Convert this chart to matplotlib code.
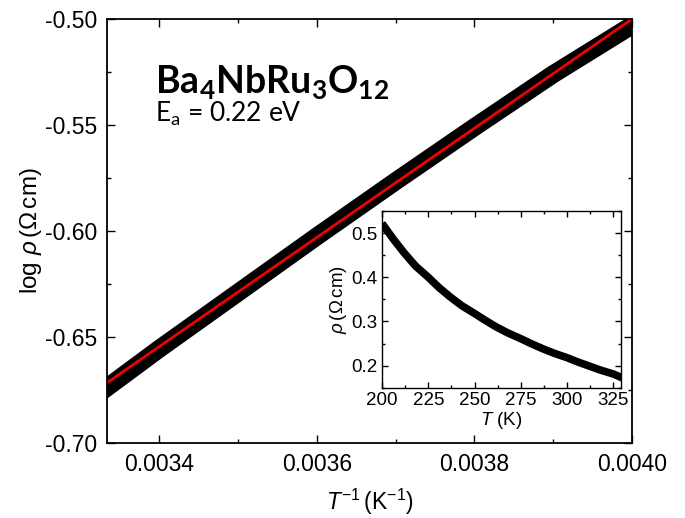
import numpy as np
import matplotlib
matplotlib.use("Agg")
import matplotlib.pyplot as plt
from matplotlib.ticker import MultipleLocator

plt.rcParams['font.family'] = ['Liberation Sans', 'DejaVu Sans']
plt.rcParams['mathtext.fontset'] = 'custom'
plt.rcParams['mathtext.rm'] = 'Liberation Sans'
plt.rcParams['mathtext.it'] = 'Liberation Sans:italic'
plt.rcParams['mathtext.bf'] = 'Lato:bold'
plt.rcParams['mathtext.sf'] = 'Lato'

### main panel data: log rho vs 1/T
inv_T = [0.00330, 0.00340, 0.00350, 0.00360, 0.00370, 0.00380, 0.00390, 0.00400, 0.00403]
log_rho = [-0.683, -0.6555, -0.629, -0.6025, -0.5765, -0.551, -0.526, -0.503, -0.496]

# linear fit (red line), end points
fit_x = [0.003333, 0.0040]
fit_y = [-0.6717, -0.500]

### inset data: rho vs T
T_inset = [200, 206, 212, 218, 225, 231, 237, 243, 250, 256, 262, 268,
           275, 281, 287, 293, 300, 306, 312, 318, 325, 330]
rho_inset = [0.522, 0.487, 0.455, 0.426, 0.400, 0.376, 0.355, 0.336, 0.318, 0.302, 0.287, 0.274,
             0.261, 0.249, 0.238, 0.228, 0.218, 0.208, 0.199, 0.190, 0.181, 0.172]


def style_axes(ax, size):
    ax.tick_params(which='both', direction='in', top=True, right=True, width=1.0)
    ax.tick_params(which='major', length=6, labelsize=size)
    ax.tick_params(which='minor', length=3)
    for s in ax.spines.values():
        s.set_linewidth(1.3)


def main():
    fig = plt.figure(figsize=(6.85, 5.18), dpi=100)

    ax = fig.add_axes([0.1562, 0.1448, 0.7664, 0.8185])
    ax.plot(inv_T, log_rho, color='black', lw=13, solid_capstyle='butt', solid_joinstyle='round')
    ax.plot(fit_x, fit_y, color='#f00000', lw=2)
    ax.set_xlim(1 / 300, 0.0040)
    ax.set_ylim(-0.70, -0.50)
    ax.xaxis.set_major_locator(MultipleLocator(0.0002))
    ax.xaxis.set_minor_locator(MultipleLocator(0.0001))
    ax.yaxis.set_major_locator(MultipleLocator(0.05))
    ax.yaxis.set_minor_locator(MultipleLocator(0.025))
    ax.xaxis.set_major_formatter(plt.FuncFormatter(lambda v, p: f'{v:.4f}'))
    ax.yaxis.set_major_formatter(plt.FuncFormatter(lambda v, p: f'{v:.2f}'))
    style_axes(ax, 16.5)
    ax.tick_params(which='major', pad=7)
    ax.set_xlabel(r'$T^{-1}\,$(K$^{-1}$)', fontsize=16.5, labelpad=8)
    ax.set_ylabel(r'log $\rho\,$($\Omega\,$cm)', fontsize=17.5, labelpad=1)

    ax.text(0.0914, 0.825, r'$\mathbf{Ba_4NbRu_3O_{12}}$', transform=ax.transAxes,
            fontsize=27, va='baseline')
    ax.text(0.0914, 0.758, r'E$_{\mathsf{a}}$ = 0.22 eV', transform=ax.transAxes,
            fontsize=19, va='baseline', family='Lato')

    ### inset
    ins = fig.add_axes([0.5577, 0.2515, 0.3485, 0.3411])
    ins.plot(T_inset, rho_inset, color='black', lw=5.5, solid_capstyle='butt', solid_joinstyle='round')
    ins.set_xlim(200, 329)
    ins.set_ylim(0.15, 0.55)
    ins.xaxis.set_major_locator(MultipleLocator(25))
    ins.xaxis.set_minor_locator(MultipleLocator(12.5))
    ins.yaxis.set_major_locator(MultipleLocator(0.1))
    ins.yaxis.set_minor_locator(MultipleLocator(0.05))
    style_axes(ins, 13.5)
    ins.tick_params(which='major', length=4, pad=3)
    ins.tick_params(which='minor', length=2)
    for s in ins.spines.values():
        s.set_linewidth(1.0)
    ins.set_xlabel(r'$T$ (K)', fontsize=13.5, labelpad=1)
    ins.set_ylabel(r'$\rho\,$($\Omega\,$cm)', fontsize=13.5, labelpad=2)

    fig.savefig('out.png', dpi=100, facecolor='white')


if __name__ == "__main__":
    main()
